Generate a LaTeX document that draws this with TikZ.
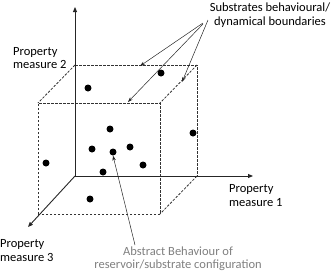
\documentclass[tikz,border=0pt]{standalone}
\usepackage{fontspec}
\setmainfont{Carlito}
\usetikzlibrary{arrows.meta}
\begin{document}
\begin{tikzpicture}[x=1pt,y=-1pt,
  axis/.style={line width=0.9pt, draw=black!85, -{Triangle[length=5pt,width=4pt]}},
  edge/.style={line width=0.8pt, draw=black!80, dash pattern=on 2.5pt off 1.5pt},
  pointer/.style={line width=0.5pt, draw=black!85, -{Stealth[length=5pt,width=3.5pt]}},
  dot/.style={circle, fill=black, inner sep=0pt, minimum size=7pt},
  lbl/.style={font=\fontsize{12.5}{13.5}\selectfont, inner sep=0pt, align=left},
]
\useasboundingbox (0,0) rectangle (332,274);
% axes
\coordinate (O) at (75,176);
\coordinate (Y) at (75,7);
\coordinate (X) at (253,176);
\coordinate (Z) at (28,227);
% cube corners
\coordinate (B2) at (75,65);
\coordinate (B3) at (197,65);
\coordinate (B4) at (197,176);
\coordinate (F1) at (38,214);
\coordinate (F2) at (38,103);
\coordinate (F3) at (160,103);
\coordinate (F4) at (160,214);
% dashed cube
\draw[edge] (F1) -- (F2) -- (F3) -- (F4) -- cycle;
\draw[edge] (B2) -- (B3) -- (B4);
\draw[edge] (B2) -- (F2);
\draw[edge] (B3) -- (F3);
\draw[edge] (B4) -- (F4);
% axes
\draw[axis] (O) -- (Y);
\draw[axis] (O) -- (X);
\draw[axis] (O) -- (Z);
% dots
\node[dot] (d1) at (88,88) {};
\node[dot] (d2) at (161,73) {};
\node[dot] (d3) at (110,129) {};
\node[dot] (d4) at (193,133) {};
\node[dot] (d5) at (92,149) {};
\node[dot] (d6) at (113,152) {};
\node[dot] (d7) at (130,147) {};
\node[dot] (d8) at (143,165) {};
\node[dot] (d9) at (103,172) {};
\node[dot] (d10) at (46,163) {};
\node[dot] (d11) at (90,199) {};
% labels
\node[lbl, align=center] (sub) at (270,15) {Substrates behavioural/\\dynamical boundaries};
\node[lbl, anchor=west] (pm2) at (13,58) {Property\\measure 2};
\node[lbl, anchor=west] (pm1) at (229,195.5) {Property\\measure 1};
\node[lbl, anchor=west] (pm3) at (0,250.5) {Property\\measure 3};
\node[lbl, align=center, text=black!50] (abs) at (178,258.5) {Abstract Behaviour of\\reservoir/substrate configuration};
% pointers
\coordinate (S1) at (203,23);
\coordinate (S2) at (203,24);
\coordinate (S3) at (208,20);
\coordinate (T1) at (140,66);
\coordinate (T2) at (128,102);
\coordinate (T3) at (182,82);
\draw[pointer] (S1) -- (T1);
\draw[pointer] (S2) -- (T2);
\draw[pointer] (S3) -- (T3);
\coordinate (A0) at (135,245);
\draw[pointer] (A0) -- (d6.south);
\end{tikzpicture}
\end{document}
